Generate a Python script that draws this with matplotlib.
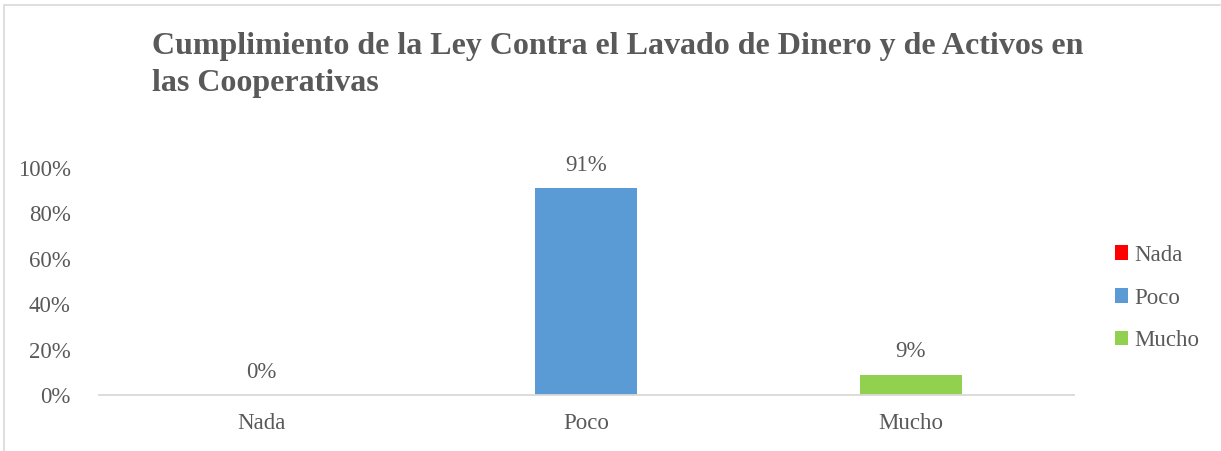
import matplotlib
matplotlib.use("Agg")
import matplotlib.pyplot as plt
from matplotlib.lines import Line2D
from matplotlib.patches import Patch

categories = ["Nada", "Poco", "Mucho"]
values = [0.0, 0.91, 0.09]
value_labels = ["0%", "91%", "9%"]
colors = ["#FF0000", "#5B9BD5", "#92D050"]
y_ticks = [0.0, 0.2, 0.4, 0.6, 0.8, 1.0]
y_tick_labels = ["0%", "20%", "40%", "60%", "80%", "100%"]
title = "Cumplimiento de la Ley Contra el Lavado de Dinero y de Activos en\nlas Cooperativas"

text_color = "#595959"
plt.rcParams["font.family"] = ["Liberation Serif", "DejaVu Serif"]

W, H = 1221, 451
fig = plt.figure(figsize=(W / 100, H / 100), dpi=100)

# outer chart frame (top and left edges visible)
fig.add_artist(Line2D([5 / W, 1220 / W], [1 - 5 / H, 1 - 5 / H], transform=fig.transFigure,
                      color="#d9d9d9", lw=1.2))
fig.add_artist(Line2D([4 / W, 4 / W], [0, 1 - 5 / H], transform=fig.transFigure,
                      color="#d9d9d9", lw=1.2))

ax = fig.add_axes([98.5 / W, 1 - 395 / H, 975 / W, 227 / H])
x = list(range(len(categories)))
bars = ax.bar(x, values, width=0.314, color=colors, zorder=2)

ax.set_xlim(-0.5, 2.5)
ax.set_ylim(0, 1.0)
ax.set_yticks(y_ticks)
ax.set_yticklabels(y_tick_labels)
ax.set_xticks(x)
ax.set_xticklabels(categories)
ax.tick_params(axis="both", length=0, labelsize=16.5, colors=text_color)
ax.tick_params(axis="y", pad=20)
ax.tick_params(axis="x", pad=13)
for side in ["top", "right", "left"]:
    ax.spines[side].set_visible(False)
ax.spines["bottom"].set_color("#d9d9d9")
ax.spines["bottom"].set_linewidth(1.3)

for xi, v, lab in zip(x, values, value_labels):
    ax.annotate(lab, (xi, v), xytext=(0, 9), textcoords="offset points",
                ha="center", va="bottom", fontsize=16.5, color=text_color)

fig.text(152 / W, 1 - 32 / H, title, ha="left", va="top", fontsize=23,
         fontweight="bold", color=text_color, linespacing=1.38)

handles = [Patch(facecolor=c, edgecolor="none") for c in colors]
fig.legend(handles, categories, loc="center left", bbox_to_anchor=(1094 / W, 1 - 298 / H),
           frameon=False, fontsize=16.5, labelcolor=text_color, handlelength=0.6,
           handleheight=0.6, handletextpad=0.25, labelspacing=0.95)

fig.savefig("out.png", dpi=100, facecolor="white")
